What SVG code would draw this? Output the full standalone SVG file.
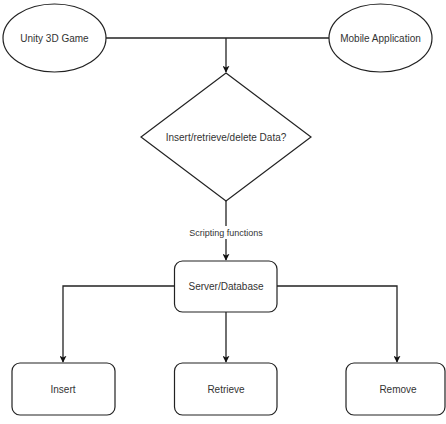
<svg xmlns="http://www.w3.org/2000/svg" width="446" height="424" viewBox="0 0 446 424">
<style>
.shape{fill:#fff;stroke:#222;stroke-width:1.2}
.edge{fill:none;stroke:#222;stroke-width:1.3}
text{font-family:"Liberation Sans",Arial,sans-serif;font-size:10px;fill:#333;text-anchor:middle;dominant-baseline:central}
.lbl{font-size:9px}
</style>
<defs>
<marker id="arr" viewBox="0 0 10 10" refX="9" refY="5" markerWidth="7" markerHeight="7" markerUnits="userSpaceOnUse" orient="auto">
<path d="M0,0 L10,5 L0,10 L2.5,5 Z" fill="#111"/>
</marker>
</defs>
<rect width="446" height="424" fill="#fff"/>
<g id="connectors">
<path class="edge" d="M106,38 H329"/>
<path class="edge" d="M226,38 V72" marker-end="url(#arr)"/>
<path class="edge" d="M226,201 V260" marker-end="url(#arr)"/>
<path class="edge" d="M174,286 H63 V362" marker-end="url(#arr)"/>
<path class="edge" d="M226,312 V362" marker-end="url(#arr)"/>
<path class="edge" d="M277,286 H397 V362" marker-end="url(#arr)"/>
<rect x="185" y="226" width="82" height="13" fill="#fff"/>
<text class="lbl" x="226" y="233">Scripting functions</text>
</g>
<g id="unity">
<ellipse class="shape" cx="54.5" cy="38" rx="51.5" ry="34"/>
<text x="54.5" y="38">Unity 3D Game</text>
</g>
<g id="mobile">
<ellipse class="shape" cx="380.5" cy="38" rx="51.5" ry="34"/>
<text x="380.5" y="38">Mobile Application</text>
</g>
<g id="decision">
<path class="shape" d="M226,73 L311,137 L226,201 L141,137 Z"/>
<text x="226" y="137">Insert/retrieve/delete Data?</text>
</g>
<g id="server">
<rect class="shape" x="174.5" y="261" width="102.5" height="51" rx="8"/>
<text x="226" y="286">Server/Database</text>
</g>
<g id="insert">
<rect class="shape" x="12" y="363" width="103" height="52" rx="8"/>
<text x="63" y="389">Insert</text>
</g>
<g id="retrieve">
<rect class="shape" x="174.5" y="363" width="102.5" height="52" rx="8"/>
<text x="226" y="389">Retrieve</text>
</g>
<g id="remove">
<rect class="shape" x="346" y="363" width="99" height="52" rx="8"/>
<text x="398" y="389">Remove</text>
</g>
</svg>
